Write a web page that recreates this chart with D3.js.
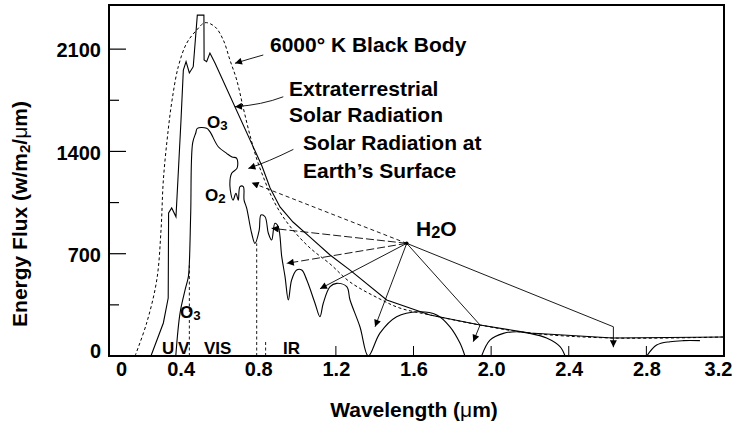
<!DOCTYPE html>
<html>
<head>
<meta charset="utf-8">
<script src="https://cdn.jsdelivr.net/npm/d3@7"></script>
<style>
  body { margin: 0; background: #fff; }
  text { font-family: "Liberation Sans", Arial, Helvetica, sans-serif; font-weight: bold; fill: #000; }
</style>
</head>
<body>
<div id="chart"></div>
<script>

// Ticks
const xTicks = [0, 0.4, 0.8, 1.2, 1.6, 2.0, 2.4, 2.8, 3.2];
const xInnerTicks = [1.2, 1.6, 2.0, 2.4, 2.8];
const yTicks = [0, 700, 1400, 2100];
const yMinorTicks = [350, 1050, 1750];

// Spectra, [wavelength um, flux W/m2/um]
const blackBody = [
  [0.165, 0], [0.225, 226], [0.277, 520], [0.299, 862], [0.311, 1204], [0.336, 1547],
  [0.356, 1752], [0.388, 1980], [0.431, 2140], [0.483, 2231], [0.526, 2281], [0.577, 2253],
  [0.620, 2162], [0.654, 2026], [0.689, 1889], [0.723, 1697], [0.757, 1512], [0.794, 1341],
  [0.824, 1232], [0.861, 1113], [0.912, 985], [0.979, 862], [1.067, 739], [1.170, 630],
  [1.273, 506], [1.427, 390], [1.530, 328], [1.685, 281], [1.943, 212], [2.200, 157],
  [2.628, 123], [3.195, 130]
];

const extraterrestrial = [
  [0.247, 0], [0.311, 226], [0.336, 397], [0.338, 979], [0.354, 1013], [0.376, 953],
  [0.386, 1204], [0.402, 1615], [0.414, 1957], [0.428, 2014], [0.445, 1937], [0.465, 1980],
  [0.486, 2333], [0.520, 2333], [0.521, 2026], [0.534, 2014], [0.551, 2073], [0.577, 2005],
  [0.819, 1300], [0.861, 1150], [0.912, 1020], [0.979, 917], [1.067, 814], [1.170, 691],
  [1.273, 588], [1.462, 383], [1.685, 281], [1.943, 212], [2.200, 157], [2.628, 123],
  [3.195, 130]
];

const surface = [
  [0.375, 0], [0.397, 294], [0.423, 452], [0.440, 543], [0.445, 636], [0.452, 979],
  [0.462, 1458], [0.478, 1526], [0.486, 1558], [0.534, 1558], [0.551, 1535], [0.594, 1432],
  [0.637, 1387], [0.665, 1362], [0.689, 1353], [0.691, 1286], [0.663, 1250], [0.654, 1163],
  [0.670, 1067], [0.685, 1113], [0.697, 1067], [0.706, 1159], [0.723, 1159], [0.727, 1067],
  [0.740, 1013], [0.766, 840], [0.783, 771], [0.805, 862], [0.814, 965], [0.835, 953],
  [0.852, 840], [0.869, 794], [0.886, 908], [0.903, 885], [0.921, 680], [0.938, 543],
  [0.955, 383], [0.972, 520], [0.998, 588], [1.024, 588], [1.050, 520], [1.092, 363],
  [1.118, 269], [1.135, 361], [1.170, 474], [1.204, 497], [1.256, 474], [1.273, 383],
  [1.324, 200], [1.367, 0], [1.427, 157], [1.513, 269], [1.625, 303], [1.720, 281],
  [1.788, 200], [1.840, 87], [1.865, 0], [1.951, 0], [1.994, 109], [2.063, 155],
  [2.132, 166], [2.200, 155], [2.286, 123], [2.355, 64], [2.381, 0], [2.802, 0],
  [2.853, 75], [2.922, 98], [2.990, 105], [3.076, 105]
];

// UV / VIS / IR boundary marks: [wavelength, top flux]
const bandLines = [[0.445, 620], [0.792, 771], [0.838, 110]];

// H2O absorption arrows, from the label point
const h2oPoint = [1.565, 771];
const h2oTargets = [
  [[0.766, 1186]],
  [[0.869, 874]],
  [[0.947, 634]],
  [[1.118, 460]],
  [[1.402, 200]],
  [[1.943, 212], [1.908, 98]],
  [[2.630, 200], [2.630, 60]]
];

// label arrows: start, control, tip
const calloutArrows = [
  [[0.826, 2060], [0.753, 2033], [0.680, 2003]],
  [[0.929, 1774], [0.819, 1718], [0.680, 1706]],
  [[0.981, 1414], [0.850, 1328], [0.749, 1284]]
];

const width = 735, height = 425;
const frame = { left: 109, right: 724, top: 5, bottom: 356 };

const svg = d3.select("#chart")
  .append("svg")
  .attr("width", width)
  .attr("height", height)
  .style("background", "#fff");

const x = d3.scaleLinear().domain([0, 3.2]).range([103, 724]);
const y = d3.scaleLinear().domain([0, 2400]).range([frame.bottom, 5.3]);

svg.append("defs").append("marker")
  .attr("id", "arrow")
  .attr("viewBox", "0 0 10 10")
  .attr("refX", 10).attr("refY", 5)
  .attr("markerWidth", 9).attr("markerHeight", 7)
  .attr("markerUnits", "userSpaceOnUse")
  .attr("orient", "auto")
  .append("path")
  .attr("d", "M0,0L10,5L0,10z")
  .style("fill", "#000");

// Axes

const xAxis = d3.axisBottom(x)
  .tickValues(xTicks)
  .tickSize(0)
  .tickPadding(0)
  .tickFormat(d => d === 0 ? "0" : d3.format(".1f")(d));

const xAxisG = svg.append("g")
  .attr("transform", "translate(0," + frame.bottom + ")")
  .call(xAxis);
xAxisG.select(".domain").remove();
xAxisG.selectAll("text")
  .attr("y", 20)
  .attr("dy", 0)
  .style("font-size", "20px")
  .attr("dx", d => d === 0 ? 18 : (d === 3.2 ? -6 : 0));

const yAxis = d3.axisLeft(y)
  .tickValues(yTicks)
  .tickSize(0)
  .tickPadding(8)
  .tickFormat(d3.format("d"));

const yAxisG = svg.append("g")
  .attr("transform", "translate(" + frame.left + ",0)")
  .call(yAxis);
yAxisG.select(".domain").remove();
yAxisG.selectAll("text")
  .style("font-size", "20px")
  .attr("dy", d => d === 0 ? "0.05em" : "0.38em");

// inner tick marks
svg.selectAll(".ymaj")
  .data(yTicks.filter(d => d > 0))
  .enter().append("line")
  .attr("x1", frame.left).attr("x2", frame.left + 17)
  .attr("y1", d => y(d)).attr("y2", d => y(d))
  .style("stroke", "#000").style("stroke-width", 1.2);

svg.selectAll(".ymin")
  .data(yMinorTicks)
  .enter().append("line")
  .attr("x1", frame.left).attr("x2", frame.left + 10)
  .attr("y1", d => y(d)).attr("y2", d => y(d))
  .style("stroke", "#000").style("stroke-width", 1.2);

svg.selectAll(".xin")
  .data(xInnerTicks)
  .enter().append("line")
  .attr("x1", d => x(d)).attr("x2", d => x(d))
  .attr("y1", frame.bottom).attr("y2", frame.bottom - 10)
  .style("stroke", "#000").style("stroke-width", 1);

// Curves

const line = d3.line()
  .x(d => x(d[0]))
  .y(d => y(d[1]));

svg.append("path")
  .datum(blackBody)
  .attr("d", line.curve(d3.curveCatmullRom.alpha(0.5)))
  .style("fill", "none")
  .style("stroke", "#000")
  .style("stroke-width", 1)
  .style("stroke-dasharray", "3,2.5");

svg.append("path")
  .datum(extraterrestrial)
  .attr("d", line.curve(d3.curveLinear))
  .style("fill", "none")
  .style("stroke", "#000")
  .style("stroke-width", 1.1);

// split the surface curve where it sits on zero, so the smoothing stays above the axis
const surfacePieces = [];
let piece = [];
surface.forEach((d, i) => {
  if (i > 0 && d[1] === 0 && surface[i - 1][1] === 0) {
    surfacePieces.push(piece);
    piece = [];
  }
  piece.push(d);
});
surfacePieces.push(piece);

svg.selectAll(".surface")
  .data(surfacePieces)
  .enter().append("path")
  .attr("d", line.curve(d3.curveCatmullRom.alpha(0.5)))
  .style("fill", "none")
  .style("stroke", "#000")
  .style("stroke-width", 1.1);

svg.selectAll(".band")
  .data(bandLines)
  .enter().append("line")
  .attr("x1", d => x(d[0])).attr("x2", d => x(d[0]))
  .attr("y1", y(0)).attr("y2", d => y(d[1]))
  .style("stroke", "#000")
  .style("stroke-width", 0.9)
  .style("stroke-dasharray", "3,2.5");

// H2O arrows

const h2oDash = ["4,3", "8,3", "8,3", null, null, null, null];

svg.selectAll(".h2o")
  .data(h2oTargets)
  .enter().append("path")
  .attr("d", d => d3.line().x(p => x(p[0])).y(p => y(p[1]))([h2oPoint].concat(d)))
  .attr("marker-end", "url(#arrow)")
  .style("fill", "none")
  .style("stroke", "#000")
  .style("stroke-width", 0.9)
  .style("stroke-dasharray", (d, i) => h2oDash[i]);

svg.append("circle")
  .attr("cx", x(h2oPoint[0])).attr("cy", y(h2oPoint[1]))
  .attr("r", 1.8)
  .style("fill", "#000");

// label arrows

svg.selectAll(".callout")
  .data(calloutArrows)
  .enter().append("path")
  .attr("d", d => {
    const p = d3.path();
    p.moveTo(x(d[0][0]), y(d[0][1]));
    p.quadraticCurveTo(x(d[1][0]), y(d[1][1]), x(d[2][0]), y(d[2][1]));
    return p.toString();
  })
  .attr("marker-end", "url(#arrow)")
  .style("fill", "none")
  .style("stroke", "#000")
  .style("stroke-width", 0.9);

// Frame

svg.append("rect")
  .attr("x", frame.left).attr("y", frame.top)
  .attr("width", frame.right - frame.left)
  .attr("height", frame.bottom - frame.top)
  .style("fill", "none")
  .style("stroke", "#000")
  .style("stroke-width", 2);

// Labels

const labels = [
  { t: "6000° K Black Body", x: 270, y: 52 },
  { t: "Extraterrestrial", x: 289, y: 96 },
  { t: "Solar Radiation", x: 289, y: 122 },
  { t: "Solar Radiation at", x: 303, y: 150 },
  { t: "Earth\u2019s Surface", x: 303, y: 178 }
];

svg.selectAll(".lbl")
  .data(labels)
  .enter().append("text")
  .attr("x", d => d.x).attr("y", d => d.y)
  .style("font-size", "21px")
  .text(d => d.t);

function chem(xp, yp, a, sub, b, size) {
  const t = svg.append("text").attr("x", xp).attr("y", yp).style("font-size", size + "px");
  t.append("tspan").text(a);
  t.append("tspan").attr("dy", 2).style("font-size", (size * 0.78) + "px").text(sub);
  if (b) t.append("tspan").attr("dy", -2).text(b);
}

chem(207, 128, "O", "3", null, 17);
chem(205, 201, "O", "2", null, 17);
chem(180, 318, "O", "3", null, 17);
chem(416, 236, "H", "2", "O", 21);

svg.append("text").attr("x", 162).attr("y", 354).style("font-size", "17px").text("U");
svg.append("text").attr("x", 178).attr("y", 354).style("font-size", "17px").text("V");
svg.append("text").attr("x", 204).attr("y", 354).style("font-size", "17px").text("VIS");
svg.append("text").attr("x", 283).attr("y", 354).style("font-size", "17px").text("IR");

// Axis titles

const xt = svg.append("text")
  .attr("x", 414).attr("y", 417)
  .style("text-anchor", "middle")
  .style("font-size", "21px");
xt.append("tspan").text("Wavelength (");
xt.append("tspan").style("font-weight", "normal").text("\u03bc");
xt.append("tspan").text("m)");

const yt = svg.append("text")
  .attr("transform", "translate(27,214) rotate(-90)")
  .style("text-anchor", "middle")
  .style("font-size", "21px");
yt.append("tspan").text("Energy Flux (w/m");
yt.append("tspan").attr("dy", 3).style("font-size", "15px").text("2");
yt.append("tspan").attr("dy", -3).text("/");
yt.append("tspan").style("font-weight", "normal").text("\u03bc");
yt.append("tspan").text("m)");

</script>
</body>
</html>
